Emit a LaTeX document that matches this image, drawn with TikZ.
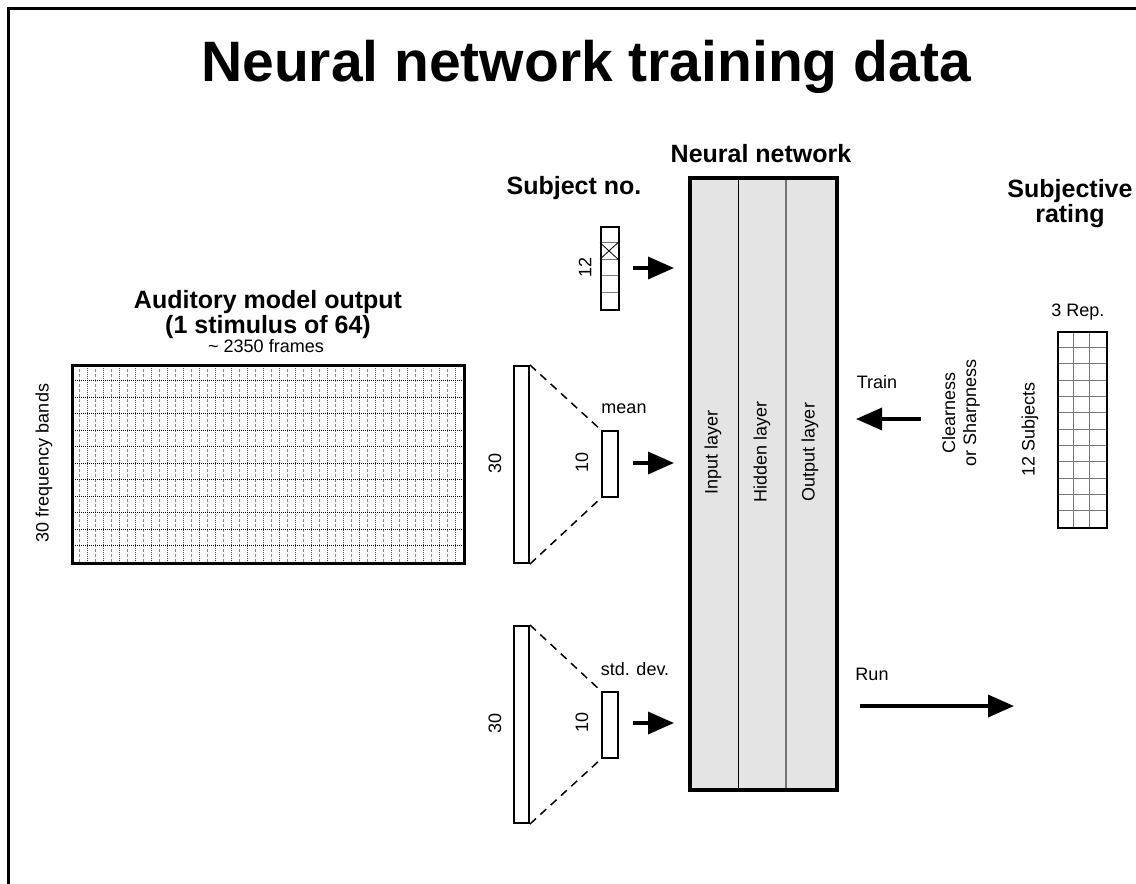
\documentclass[tikz,border=0pt]{standalone}
\usepackage{fontspec}
\setmainfont{Liberation Sans}
\usetikzlibrary{arrows.meta}
\definecolor{nngray}{RGB}{228,228,228}
\definecolor{cellgray}{RGB}{120,120,120}
\begin{document}
\begin{tikzpicture}[x=1pt,y=-1pt,
  lbl/.style={font=\fontsize{18}{21}\selectfont, inner sep=0},
  hdr/.style={font=\fontsize{25}{28}\selectfont\bfseries, inner sep=0},
  bar/.style={draw, line width=2pt, fill=white, inner sep=0, anchor=north west},
  bigarrow/.style={line width=3.5pt, -{Triangle[length=26pt,width=22pt]}},
  fan/.style={line width=1.5pt, dash pattern=on 8pt off 6pt},
  hline/.style={line width=1pt, dash pattern=on 1pt off 1pt, black},
  vlineA/.style={line width=1pt, dash pattern=on 1pt off 1pt, black!70},
  vlineB/.style={line width=1pt, dash pattern=on 3pt off 2pt, black!45},
  cellline/.style={line width=1pt, cellgray},
]
\useasboundingbox (0,0) rectangle (1136,884);
% frame
\draw[line width=3pt, line join=miter] (8,884) -- (8,8) -- (1136,8);

% title
\node[font=\fontsize{57}{60}\selectfont\bfseries, inner sep=0, anchor=base] (title) at (586,81) {Neural network training data};

% ---------- auditory model output ----------
\node[hdr, anchor=base] (amoA) at (268,308) {Auditory model output};
\node[hdr, anchor=base] (amoB) at (268,333) {(1 stimulus of 64)};
\node[lbl, anchor=base] (frames) at (266,352) {\textasciitilde\ 2350 frames};
\node[lbl, rotate=90] (bands) at (44,463) {30 frequency bands};
\foreach \i in {1,...,48} {
  \pgfmathtruncatemacro{\m}{mod(\i,2)}
  \ifnum\m=0
    \draw[vlineA] ({71+\i*8},364) -- ({71+\i*8},562);
  \else
    \draw[vlineB] ({71+\i*8},364) -- ({71+\i*8},562);
  \fi
}
\foreach \i in {1,...,11}
  \draw[hline] (71,{364+\i*16.5}) -- (463,{364+\i*16.5});
\node[draw, line width=3pt, inner sep=0, minimum width=392pt, minimum height=198pt, anchor=north west] (amo) at (71,364) {};

% ---------- subject no ----------
\node[hdr, anchor=base] (subjhdr) at (574,194) {Subject no.};
\node[draw, line width=2pt, fill=white, inner sep=0, minimum width=18pt, minimum height=83pt, anchor=north west] (subj) at (600,226) {};
\foreach \i in {1,...,4}
  \draw[cellline] (600,{226+\i*16.6}) -- (618,{226+\i*16.6});
\draw[line width=0.8pt] (600,242.6) -- (618,259.2);
\draw[line width=0.8pt] (600,259.2) -- (618,242.6);
\node[draw, line width=2pt, inner sep=0, minimum width=18pt, minimum height=83pt, anchor=north west] at (600,226) {};
\node[lbl, rotate=90] (n12) at (585,267) {12};
\coordinate (s1) at (633,268); \coordinate (e1) at (674,268);
\draw[bigarrow] (s1) -- (e1);

% ---------- mean ----------
\node[bar, minimum width=15pt, minimum height=197pt] (bigm) at (513,365) {};
\node[bar, minimum width=16pt, minimum height=66pt] (smallm) at (601,430) {};
\draw[fan] (bigm.north east) -- (smallm.north west);
\draw[fan] (bigm.south east) -- (smallm.south west);
\node[lbl, anchor=base] (meanlbl) at (624,413) {mean};
\node[lbl, rotate=90] (m30) at (495,463) {30};
\node[lbl, rotate=90] (m10) at (582,462) {10};
\coordinate (s2) at (633,463); \coordinate (e2) at (674,463);
\draw[bigarrow] (s2) -- (e2);

% ---------- std dev ----------
\node[bar, minimum width=15pt, minimum height=197pt] (bigs) at (513,625) {};
\node[bar, minimum width=16pt, minimum height=66pt] (smalls) at (601,691) {};
\draw[fan] (bigs.north east) -- (smalls.north west);
\draw[fan] (bigs.south east) -- (smalls.south west);
\node[lbl, anchor=base] (sdlbl) at (635,675) {std. dev.};
\node[lbl, rotate=90] (s30) at (495,723) {30};
\node[lbl, rotate=90] (s10) at (582,722) {10};
\coordinate (s3) at (633,723); \coordinate (e3) at (674,723);
\draw[bigarrow] (s3) -- (e3);

% ---------- neural network ----------
\node[hdr, anchor=base] (nnhdr) at (761,162) {Neural network};
\node[fill=nngray, inner sep=0, minimum width=147pt, minimum height=612pt, anchor=north west] (nn) at (688,176) {};
\draw[line width=1pt, black] (738,176) -- (738,788);
\draw[line width=1.5pt, black!55] (786,176) -- (786,788);
\node[draw, line width=3.5pt, inner sep=0, minimum width=147pt, minimum height=612pt, anchor=north west] at (688,176) {};
\node[lbl, rotate=90] (inl) at (713,452) {Input layer};
\node[lbl, rotate=90] (hidl) at (762,452) {Hidden layer};
\node[lbl, rotate=90] (outl) at (810,452) {Output layer};

% ---------- subjective rating ----------
\node[hdr, anchor=base] (srA) at (1070,197) {Subjective};
\node[hdr, anchor=base] (srB) at (1070,222) {rating};
\node[lbl, anchor=base] (rep) at (1078,316) {3 Rep.};
\foreach \i in {1,...,11}
  \draw[cellline] (1057,{331+\i*16.333}) -- (1106,{331+\i*16.333});
\foreach \i in {1,2}
  \draw[cellline] ({1057+\i*16.333},331) -- ({1057+\i*16.333},527);
\node[draw, line width=2pt, inner sep=0, minimum width=49pt, minimum height=196pt, anchor=north west] (rating) at (1057,331) {};
\node[lbl, rotate=90] (subj12) at (1030,429) {12 Subjects};
\node[lbl, rotate=90, align=center] (cs) at (961,413) {Clearness\\or Sharpness};
\node[lbl, anchor=base] (train) at (877,388) {Train};
\coordinate (s4) at (921,419); \coordinate (e4) at (856,419);
\draw[bigarrow] (s4) -- (e4);

% ---------- run ----------
\node[lbl, anchor=base] (run) at (872,680) {Run};
\coordinate (s5) at (860,706); \coordinate (e5) at (1014,706);
\draw[bigarrow] (s5) -- (e5);
\end{tikzpicture}
\end{document}
